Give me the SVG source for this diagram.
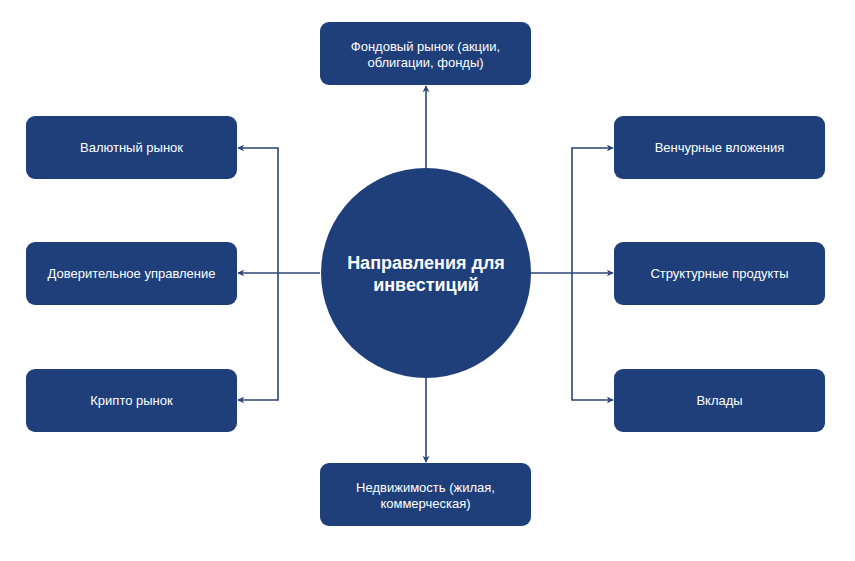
<svg xmlns="http://www.w3.org/2000/svg" width="855" height="561" viewBox="0 0 855 561">
<defs>
<style>
.box{fill:#1e3f7a;}
.lbl{font-family:"Liberation Sans",Arial,sans-serif;font-size:13px;fill:#ffffff;text-anchor:middle;}
.title{font-family:"Liberation Sans",Arial,sans-serif;font-size:18px;font-weight:bold;fill:#ffffff;text-anchor:middle;}
.con{fill:none;stroke:#2b4675;stroke-width:1.6;marker-end:url(#arr);}
.con0{fill:none;stroke:#2b4675;stroke-width:1.6;}
</style>
<marker id="arr" viewBox="0 0 10 10" refX="9" refY="5" markerWidth="7" markerHeight="7" markerUnits="userSpaceOnUse" orient="auto">
<path d="M0,0 L10,5 L0,10 L3,5 Z" fill="#2b4675"/>
</marker>
</defs>
<rect width="855" height="561" fill="#ffffff"/>
<g id="connectors">
<path class="con" d="M426,168 V86"/>
<path class="con" d="M426,378 V462"/>
<path class="con0" d="M320,273 H278"/>
<path class="con" d="M278,273 H238"/>
<path class="con" d="M278,273 V148 H238"/>
<path class="con" d="M278,273 V400 H238"/>
<path class="con0" d="M531,273 H572"/>
<path class="con" d="M572,273 H613"/>
<path class="con" d="M572,273 V148 H613"/>
<path class="con" d="M572,273 V400 H613"/>
</g>
<g id="center">
<circle cx="426" cy="273" r="105" class="box"/>
<text class="title" x="426" y="269">Направления для</text>
<text class="title" x="426" y="291">инвестиций</text>
</g>
<g id="n-stock">
<rect x="320" y="22" width="211" height="63" rx="9" class="box"/>
<text class="lbl" x="425.5" y="51">Фондовый рынок (акции,</text>
<text class="lbl" x="425.5" y="67">облигации, фонды)</text>
</g>
<g id="n-realty">
<rect x="320" y="463" width="211" height="63" rx="9" class="box"/>
<text class="lbl" x="425.5" y="492">Недвижимость (жилая,</text>
<text class="lbl" x="425.5" y="508">коммерческая)</text>
</g>
<g id="n-fx">
<rect x="26" y="116" width="211" height="63" rx="9" class="box"/>
<text class="lbl" x="131.5" y="152">Валютный рынок</text>
</g>
<g id="n-trust">
<rect x="26" y="242" width="211" height="63" rx="9" class="box"/>
<text class="lbl" x="131.5" y="278">Доверительное управление</text>
</g>
<g id="n-crypto">
<rect x="26" y="369" width="211" height="63" rx="9" class="box"/>
<text class="lbl" x="131.5" y="405">Крипто рынок</text>
</g>
<g id="n-venture">
<rect x="614" y="116" width="211" height="63" rx="9" class="box"/>
<text class="lbl" x="719.5" y="152">Венчурные вложения</text>
</g>
<g id="n-struct">
<rect x="614" y="242" width="211" height="63" rx="9" class="box"/>
<text class="lbl" x="719.5" y="278">Структурные продукты</text>
</g>
<g id="n-deposits">
<rect x="614" y="369" width="211" height="63" rx="9" class="box"/>
<text class="lbl" x="719.5" y="405">Вклады</text>
</g>
</svg>
